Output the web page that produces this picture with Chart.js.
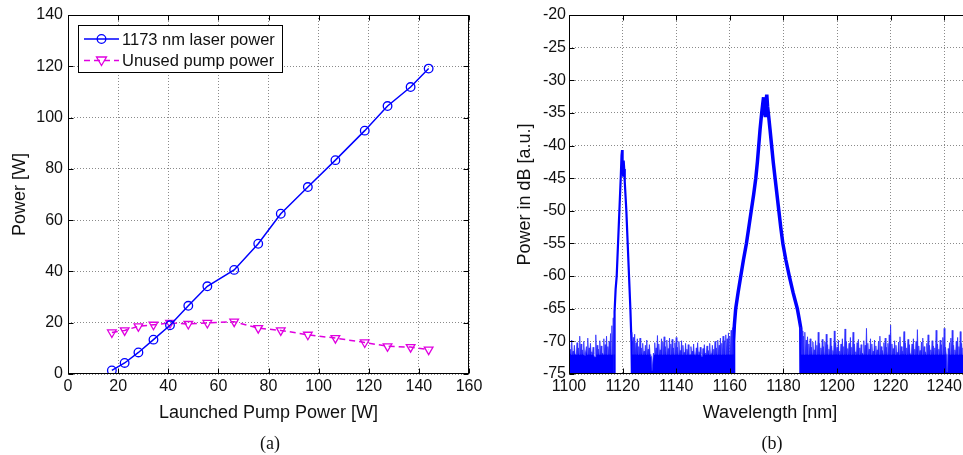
<!DOCTYPE html>
<html>
<head>
<meta charset="utf-8">
<script src="https://cdn.jsdelivr.net/npm/chart.js@4.4.0/dist/chart.umd.min.js"></script>
<style>
  html, body { margin: 0; padding: 0; background: #fff; overflow: hidden; width: 963px; height: 455px; }
  #wrapA { position: absolute; left: 0; top: 0; width: 490px; height: 455px; }
  #wrapB { position: absolute; left: 490px; top: 0; width: 502px; height: 455px; }
  .cap { position: absolute; top: 433px; line-height: 20px; font-size: 18px; font-family: "Liberation Serif", serif; color: #111; transform: translateX(-50%); }
</style>
</head>
<body>
<div id="wrapA"><canvas id="chartA"></canvas></div>
<div id="wrapB"><canvas id="chartB"></canvas></div>
<div class="cap" style="left:270px">(a)</div>
<div class="cap" style="left:772px">(b)</div>
<script>
// (a) power vs launched pump power
const pumpPower = [17.5, 22.6, 28.1, 34.1, 40.7, 48.0, 55.6, 66.3, 75.9, 84.9, 95.7, 106.7, 118.4, 127.5, 136.7, 143.9];
const laserPower = [1.4, 4.3, 8.4, 13.4, 19.0, 26.6, 34.2, 40.6, 50.8, 62.5, 72.9, 83.4, 94.9, 104.5, 111.9, 119.1];
const unusedPump = [16.2, 17.0, 18.6, 19.2, 19.9, 19.5, 19.9, 20.4, 17.9, 17.0, 15.3, 14.0, 12.3, 10.8, 10.5, 9.5];

// (b) spectrum: noise floor read as trace tops every 0.5 nm,
// between two tops the trace falls back to the solid band (about -72 dB)
const NOISE_STEP = 0.5;
const NOISE_DIP = -72;
const noiseStartA = 1100;
const noiseTopA = [-70.5, -71.2, -69.8, -71.5, -70.6, -72.0, -70.2, -71.0, -69.2, -70.4,
  -71.3, -70.0, -72.2, -70.8, -69.5, -71.0, -70.3, -71.6, -70.9, -72.4,
  -69.0, -70.6, -71.2, -69.9, -70.7, -71.8, -69.6, -70.5, -69.2, -70.8,
  -70.0, -68.8, -67.6, -66.4];
const noiseStartB = 1123.5;
const noiseTopB = [-68.6, -69.4, -68.9, -70.2, -69.6, -70.8, -69.5, -71.0, -70.3, -71.5,
  -70.6, -69.8, -71.2, -70.5, -72.3, -74.5, -71.8, -70.2, -71.0, -69.1,
  -70.4, -71.3, -69.6, -70.1, -69.3, -70.8, -69.8, -71.1, -69.5, -70.4,
  -69.7, -71.0, -70.2, -69.4, -70.9, -70.0, -71.4, -69.9, -70.6, -71.7,
  -70.3, -71.2, -70.5, -72.0, -70.8, -71.5, -70.4, -72.1, -71.0, -70.2,
  -71.6, -70.9, -72.3, -71.1, -70.5, -71.8, -70.7, -71.4, -70.3, -71.9,
  -70.6, -71.2, -70.0, -71.0, -69.8, -70.6, -69.5, -70.3, -69.2, -69.9,
  -69.0, -69.6, -68.7, -69.2, -68.3, -67.9];
const noiseStartC = 1186.5;
const noiseTopC = [-67.8, -68.4, -69.2, -68.6, -69.8, -69.3, -70.4, -69.6, -70.9, -70.1,
  -71.3, -69.9, -70.6, -68.6, -70.3, -71.0, -69.7, -70.8, -70.1, -68.9,
  -70.5, -71.2, -69.5, -70.7, -71.4, -68.4, -70.2, -70.9, -69.8, -71.5,
  -70.4, -69.6, -70.8, -68.1, -70.0, -71.1, -70.3, -69.4, -70.9, -68.6,
  -70.4, -71.6, -70.2, -69.7, -71.0, -70.5, -71.8, -69.9, -70.6, -68.0,
  -70.3, -71.2, -69.6, -70.4, -71.5, -69.8, -70.7, -71.3, -70.0, -69.2,
  -70.8, -71.4, -70.2, -69.5, -70.9, -70.3, -69.0, -67.5, -70.4, -71.1,
  -69.9, -70.6, -71.7, -70.1, -69.3, -70.8, -71.5, -68.5, -70.2, -71.0,
  -69.7, -70.5, -71.9, -70.4, -69.6, -71.2, -70.0, -68.2, -70.7, -71.4,
  -70.1, -69.5, -70.8, -71.6, -70.3, -69.0, -70.6, -71.3, -69.9, -70.7,
  -71.0, -68.3, -70.4, -71.2, -69.8, -70.5, -69.4, -68.0, -70.9, -74.6,
  -71.1, -70.2, -69.5, -68.3, -70.6, -71.3, -70.0, -69.4, -70.8, -68.5,
  -70.3, -71.0, -69.7, -70.4, -71.2, -69.9, -70.6, -70.1];

const peak1120Wl = [1116.8, 1117.0, 1117.4, 1117.8, 1118.3, 1118.8, 1119.3, 1119.6, 1119.8, 1120.0,
  1120.2, 1120.4, 1120.6, 1120.8, 1121.4, 1121.9, 1122.4, 1122.9, 1123.3, 1123.5];
const peak1120Db = [-76, -65.5, -62.0, -60.0, -55.0, -50.0, -45.0, -41.5, -40.7, -42.8,
  -44.6, -42.3, -43.6, -45.5, -50.0, -55.0, -60.0, -65.0, -70.0, -76];

const peak1173Wl = [1161.3, 1161.4, 1161.7, 1162.2, 1163.1, 1164.1, 1165.1, 1166.2, 1167.1, 1168.0,
  1168.9, 1169.7, 1170.3, 1170.8, 1171.3, 1171.9, 1172.3, 1172.6, 1172.9, 1173.2,
  1173.5, 1173.8, 1174.1, 1174.5, 1175.0, 1175.6, 1176.2, 1176.9, 1177.6, 1178.3,
  1179.0, 1179.8, 1180.9, 1182.2, 1183.6, 1185.2, 1186.0, 1186.5, 1186.6];
const peak1173Db = [-76, -70, -67.5, -65, -62.5, -60, -57.5, -55, -52.5, -50,
  -47.5, -45, -42.5, -40, -37.5, -35, -33.6, -32.6, -34.6, -35.4,
  -33.2, -32.2, -34.0, -35.5, -37.5, -40, -42.5, -45, -47.5, -50,
  -52.5, -55, -57.5, -60, -62.5, -65, -66.8, -68, -76];

const FONT = '"Liberation Sans", Arial, sans-serif';
const TEXT = '#111';

function noisePoints(start, tops) {
  const pts = [];
  tops.forEach((top, i) => {
    const wl = start + i * NOISE_STEP;
    pts.push({ x: wl, y: top });
    pts.push({ x: wl + NOISE_STEP / 2, y: Math.min(NOISE_DIP, top) });
  });
  return pts;
}

function zip(xs, ys) {
  return xs.map((x, i) => ({ x: x, y: ys[i] }));
}

// MATLAB style box round the axes, with small inward ticks
const frame = {
  id: 'frame',
  afterDatasetsDraw(chart) {
    const { ctx, chartArea: a, scales } = chart;
    const l = Math.round(a.left) + 0.5, r = Math.round(a.right) - 0.5;
    const t = Math.round(a.top) + 0.5, b = Math.round(a.bottom) - 0.5;
    ctx.save();
    ctx.strokeStyle = '#000';
    ctx.lineWidth = 1;
    ctx.setLineDash([]);
    ctx.strokeRect(l, t, r - l, b - t);
    ctx.beginPath();
    scales.x.ticks.forEach((tk) => {
      const px = Math.round(scales.x.getPixelForValue(tk.value)) + 0.5;
      ctx.moveTo(px, b); ctx.lineTo(px, b - 5);
      ctx.moveTo(px, t); ctx.lineTo(px, t + 5);
    });
    scales.y.ticks.forEach((tk) => {
      const py = Math.round(scales.y.getPixelForValue(tk.value)) + 0.5;
      ctx.moveTo(l, py); ctx.lineTo(l + 5, py);
      ctx.moveTo(r, py); ctx.lineTo(r - 5, py);
    });
    ctx.stroke();
    ctx.restore();
  }
};

function drawMarker(ctx, style, x, y) {
  ctx.beginPath();
  if (style === 'circle') {
    ctx.arc(x, y, 4.3, 0, Math.PI * 2);
  } else {
    ctx.moveTo(x - 5, y - 3.5);
    ctx.lineTo(x + 5, y - 3.5);
    ctx.lineTo(x, y + 5);
    ctx.closePath();
  }
  ctx.stroke();
}

// legend box in the top left corner, sample line with marker
const boxLegend = {
  id: 'boxLegend',
  afterDraw(chart) {
    const ctx = chart.ctx;
    ctx.save();
    ctx.fillStyle = '#fff';
    ctx.fillRect(78, 25, 204, 47);
    ctx.strokeStyle = '#000';
    ctx.lineWidth = 1;
    ctx.strokeRect(78.5, 25.5, 204, 47);
    chart.data.datasets.forEach((ds, i) => {
      const y = 39 + i * 21.5;
      ctx.strokeStyle = ds.borderColor;
      ctx.lineWidth = ds.borderWidth;
      ctx.setLineDash(ds.borderDash || []);
      ctx.beginPath();
      ctx.moveTo(84, y);
      ctx.lineTo(119, y);
      ctx.stroke();
      ctx.setLineDash([]);
      ctx.lineWidth = 1.3;
      drawMarker(ctx, ds.pointStyle, 101.5, y);
      ctx.fillStyle = TEXT;
      ctx.font = '16.5px ' + FONT;
      ctx.textBaseline = 'middle';
      ctx.fillText(ds.label, 122, y + 1);
    });
    ctx.restore();
  }
};

function axisOptions(min, max, step, title, size, titlePad, tickPad) {
  return {
    type: 'linear',
    min: min,
    max: max,
    ticks: {
      stepSize: step,
      includeBounds: false,
      autoSkip: false,
      maxRotation: 0,
      padding: tickPad,
      color: TEXT,
      font: { family: FONT, size: 16 },
      callback: (v) => String(v),
    },
    grid: { color: '#8a8a8a', lineWidth: 1, drawTicks: false },
    border: { display: false, dash: [1, 2] },
    title: {
      display: true,
      text: title,
      color: TEXT,
      font: { family: FONT, size: 18 },
      padding: titlePad,
    },
    afterFit: size,
  };
}

Chart.defaults.animation = false;

new Chart(document.getElementById('chartA'), {
  type: 'line',
  data: {
    datasets: [
      {
        label: '1173 nm laser power',
        data: zip(pumpPower, laserPower),
        borderColor: '#0000ff',
        borderWidth: 1.5,
        pointStyle: 'circle',
        pointRadius: 4.3,
        pointBorderWidth: 1.3,
        pointBorderColor: '#0000ff',
        pointBackgroundColor: 'rgba(0,0,0,0)',
        tension: 0,
      },
      {
        label: 'Unused pump power',
        data: zip(pumpPower, unusedPump),
        borderColor: '#e000e0',
        borderWidth: 1.5,
        borderDash: [6, 4],
        pointStyle: 'triangle',
        rotation: 180,
        pointRadius: 5,
        pointBorderWidth: 1.3,
        pointBorderColor: '#e000e0',
        pointBackgroundColor: 'rgba(0,0,0,0)',
        tension: 0,
      },
    ],
  },
  options: {
    responsive: true,
    maintainAspectRatio: false,
    devicePixelRatio: 1,
    layout: { padding: { left: 0, top: 15, right: 21, bottom: 0 } },
    plugins: { legend: { display: false }, tooltip: { enabled: false } },
    scales: {
      x: axisOptions(0, 160, 20, 'Launched Pump Power [W]', (s) => { s.height = 81; }, { top: 0, bottom: 31 }, 3),
      y: axisOptions(0, 140, 20, 'Power [W]', (s) => { s.width = 68; }, { top: 9, bottom: 0 }, 5),
    },
  },
  plugins: [frame, boxLegend],
});

const noiseData = [].concat(
  noisePoints(noiseStartA, noiseTopA),
  [{ x: 1118, y: null }],
  noisePoints(noiseStartB, noiseTopB),
  [{ x: 1170, y: null }],
  noisePoints(noiseStartC, noiseTopC)
);

new Chart(document.getElementById('chartB'), {
  type: 'line',
  data: {
    datasets: [
      {
        label: 'noise',
        data: noiseData,
        borderColor: 'rgba(40,40,255,0.75)',
        backgroundColor: '#0000ff',
        fill: 'start',
        borderWidth: 1,
        borderJoinStyle: 'bevel',
        pointRadius: 0,
        tension: 0,
        spanGaps: false,
        clip: 0,
      },
      {
        label: '1120 nm',
        data: zip(peak1120Wl, peak1120Db),
        borderColor: '#0000ff',
        borderWidth: 2.2,
        pointRadius: 0,
        tension: 0,
        clip: 0,
      },
      {
        label: '1173 nm',
        data: zip(peak1173Wl, peak1173Db),
        borderColor: '#0000ff',
        borderWidth: 3.5,
        pointRadius: 0,
        tension: 0,
        clip: 0,
      },
    ],
  },
  options: {
    responsive: true,
    maintainAspectRatio: false,
    devicePixelRatio: 1,
    layout: { padding: { left: 0, top: 15, right: 21, bottom: 0 } },
    plugins: { legend: { display: false }, tooltip: { enabled: false }, filler: { propagate: false } },
    scales: {
      x: axisOptions(1100, 1250, 20, 'Wavelength [nm]', (s) => { s.height = 81; }, { top: 0, bottom: 31 }, 3),
      y: axisOptions(-75, -20, 5, 'Power in dB [a.u.]', (s) => { s.width = 79; }, { top: 24, bottom: 0 }, 3),
    },
  },
  plugins: [frame],
});
</script>
</body>
</html>
